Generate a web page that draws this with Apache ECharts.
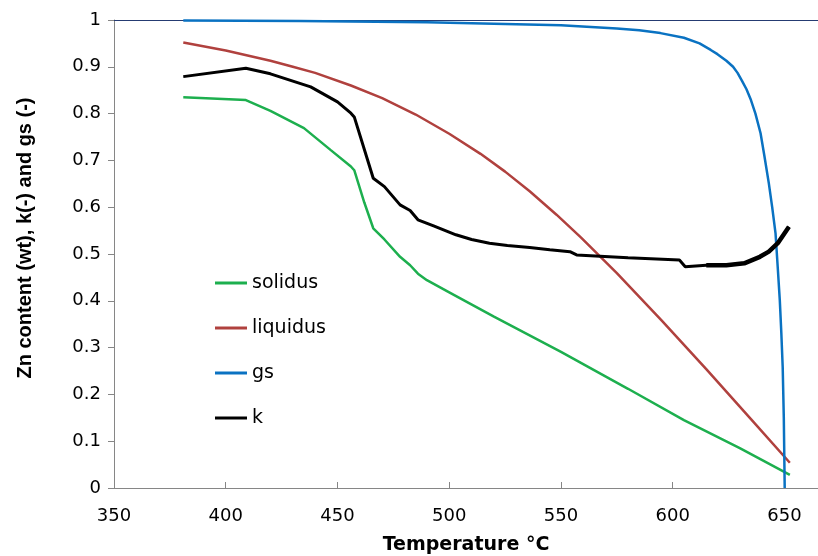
<!DOCTYPE html>
<html>
<head>
<meta charset="utf-8">
<script src="https://cdn.jsdelivr.net/npm/echarts@6.0.0/dist/echarts.min.js"></script>
<style>
	html,body{margin:0;padding:0;background:#fff;}
	#chart{width:818px;height:556px;}
</style>
</head>
<body>
<div id="chart"></div>
<script>
// values (temperature in °C, content / fraction)
var solidusT = [381, 409, 420, 435, 447, 456, 457.5, 462, 466, 471, 478, 482.5, 486, 490, 500, 520, 550, 580, 605, 630, 652.4];
var solidusV = [0.835, 0.829, 0.806, 0.769, 0.722, 0.687, 0.679, 0.610, 0.555, 0.531, 0.494, 0.476, 0.458, 0.444, 0.418, 0.366, 0.291, 0.212, 0.145, 0.085, 0.028];

var liquidusT = [381, 400, 420, 430, 440, 456, 470, 485, 500, 514, 525, 536, 548, 559, 575, 595, 615, 635, 652.4];
var liquidusV = [0.952, 0.935, 0.913, 0.900, 0.887, 0.860, 0.833, 0.798, 0.757, 0.714, 0.676, 0.634, 0.584, 0.535, 0.459, 0.358, 0.254, 0.147, 0.054];

var gsT = [381, 433, 490, 550, 575, 585, 594.5, 605, 612, 617, 620, 624, 627, 629, 631, 633, 635, 637, 639.3, 641, 643, 644.5, 646, 647, 647.9, 648.6, 649.2, 649.7, 650.1];
var gsV = [0.999, 0.998, 0.995, 0.989, 0.982, 0.978, 0.972, 0.962, 0.950, 0.936, 0.927, 0.913, 0.900, 0.887, 0.870, 0.852, 0.829, 0.800, 0.758, 0.710, 0.651, 0.600, 0.544, 0.470, 0.402, 0.330, 0.259, 0.150, 0];

var kT = [381, 409, 420, 438, 450, 456, 457.5, 466, 471, 478, 482.5, 486, 493, 503, 510, 518, 526, 536, 545, 554, 557, 580, 603, 605.6, 615, 624, 632, 639, 643, 647, 652];
var kV = [0.879, 0.897, 0.885, 0.857, 0.825, 0.801, 0.793, 0.662, 0.644, 0.605, 0.593, 0.573, 0.560, 0.541, 0.531, 0.523, 0.518, 0.514, 0.509, 0.505, 0.498, 0.492, 0.487, 0.473, 0.476, 0.476, 0.480, 0.494, 0.505, 0.523, 0.558];

var seriesNames = ['solidus', 'liquidus', 'gs', 'k'];
var seriesColors = ['#1DAF4E', '#B0413E', '#0A72C2', '#000000'];

function pairs(xs, ys){
	var out = [];
	for(var i = 0 ; i < xs.length ; i++){
		out.push([xs[i], ys[i]]);
	}
	return out;
}

var myChart = echarts.init(document.getElementById('chart'), null, {renderer:'canvas'});
var font = 'DejaVu Sans, sans-serif';
var titleFont = 'Liberation Sans, Arial, sans-serif';

// the k curve is drawn heavier where its points pile up near the end
var kEnd = 24;

option = {
	animation : false,
	color : seriesColors,
	grid : {
		left : 114,
		top : 20,
		right : 0,
		bottom : 68,
		outerBoundsMode : 'none'
	},
	legend : {
		data : seriesNames,
		orient : 'vertical',
		left : 210,
		top : 268,
		icon : 'rect',
		itemWidth : 32,
		itemHeight : 3,
		itemGap : 25,
		textStyle : {
			fontFamily : font,
			fontSize : 19,
			lineHeight : 20,
			color : '#000'
		}
	},
	xAxis : [ {
		type : 'value',
		min : 350,
		max : 665,
		interval : 50,
		name : 'Temperature °C',
		nameLocation : 'middle',
		nameGap : 48,
		nameTextStyle : {
			fontFamily : font,
			fontSize : 19,
			fontWeight : 'bold',
			color : '#000'
		},
		axisLine : { lineStyle : { color : '#868686', width : 1 } },
		axisTick : { inside : true, length : 6, lineStyle : { color : '#868686' } },
		axisLabel : {
			showMaxLabel : false,
			margin : 19,
			fontFamily : font,
			fontSize : 18,
			color : '#000'
		},
		splitLine : { show : false }
	}, {
		type : 'value',
		position : 'top',
		min : 350,
		max : 665,
		axisLine : { show : true, lineStyle : { color : '#253B72', width : 1 } },
		axisTick : { show : false },
		axisLabel : { show : false },
		splitLine : { show : false }
	} ],
	yAxis : [ {
		type : 'value',
		min : 0,
		max : 1,
		interval : 0.1,
		axisLine : { show : true, lineStyle : { color : '#868686', width : 1 } },
		axisTick : { show : true, length : 6, lineStyle : { color : '#868686' } },
		axisLabel : {
			margin : 13,
			fontFamily : font,
			fontSize : 18,
			color : '#000',
			formatter : function(v){ return String(Math.round(v * 10) / 10); }
		},
		splitLine : { show : false }
	} ],
	graphic : [ {
		type : 'text',
		x : 25,
		y : 238,
		rotation : Math.PI / 2,
		style : {
			text : 'Zn content (wt), k(-) and gs (-)',
			fontFamily : titleFont,
			fontSize : 20,
			fontWeight : 'bold',
			fill : '#000',
			align : 'center',
			verticalAlign : 'middle'
		}
	} ],
	series : [ {
		name : 'solidus',
		type : 'line',
		data : pairs(solidusT, solidusV),
		symbol : 'none',
		lineStyle : { width : 2.5 }
	}, {
		name : 'liquidus',
		type : 'line',
		data : pairs(liquidusT, liquidusV),
		symbol : 'none',
		lineStyle : { width : 2.5 }
	}, {
		name : 'gs',
		type : 'line',
		data : pairs(gsT, gsV),
		symbol : 'none',
		lineStyle : { width : 2.5 }
	}, {
		name : 'k',
		type : 'line',
		data : pairs(kT, kV),
		symbol : 'none',
		lineStyle : { width : 3 }
	}, {
		name : 'k',
		type : 'line',
		data : pairs(kT.slice(kEnd), kV.slice(kEnd)),
		symbol : 'none',
		lineStyle : { width : 4.5 }
	} ]
};

myChart.setOption(option);
</script>
</body>
</html>
